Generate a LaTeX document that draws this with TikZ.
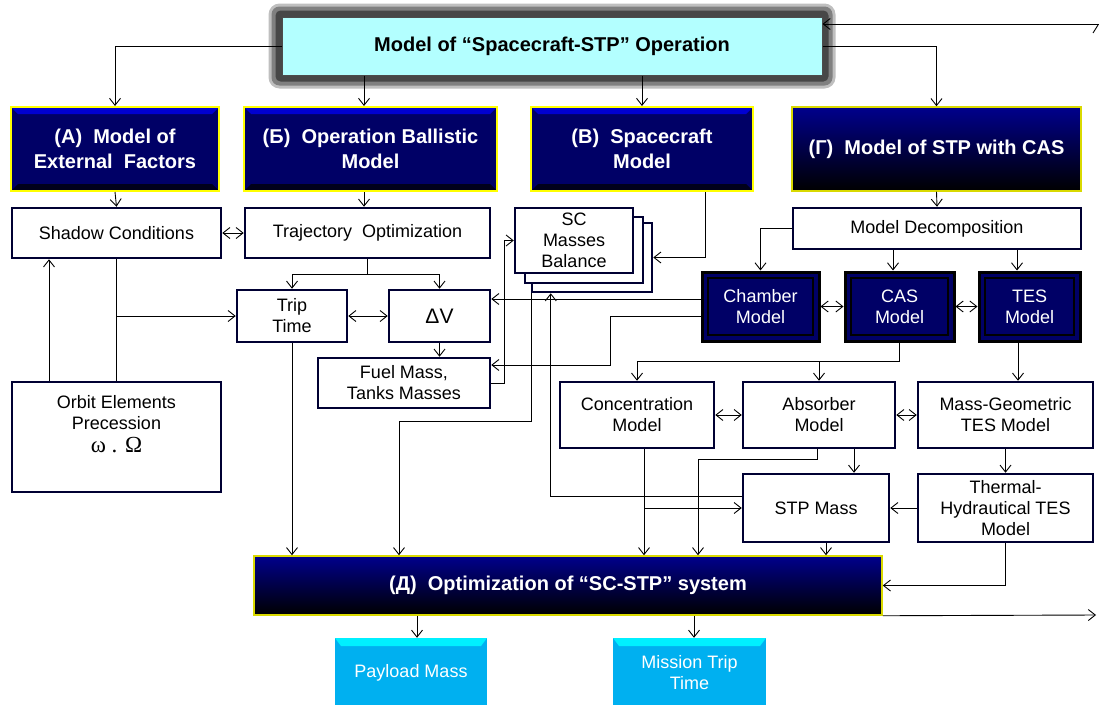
\documentclass[tikz,border=0pt]{standalone}
\usepackage[no-math]{fontspec}
\setmainfont{Liberation Sans}
\newfontfamily\greekserif{Liberation Serif}
\usetikzlibrary{arrows.meta, positioning, calc, backgrounds}
\definecolor{Navy}{HTML}{000066}
\definecolor{NavyTop}{HTML}{0000D0}
\definecolor{NavyEdge}{HTML}{00001A}
\definecolor{BoxLine}{HTML}{000033}
\definecolor{PaleCyan}{HTML}{B3FFFF}
\definecolor{Gold}{HTML}{FFFF00}
\definecolor{Sky}{HTML}{00B0F0}
\definecolor{SkyTop}{HTML}{00F0FF}
\newcommand{\boxfont}{\fontsize{18}{21}\selectfont}
\newcommand{\hdfont}{\fontsize{20}{25}\selectfont\bfseries}

\begin{document}
\begin{tikzpicture}[x=1pt, y=-1pt,
    wbox/.style={rectangle, draw=BoxLine, line width=2.5pt, fill=white, align=center, inner sep=0pt, font=\boxfont},
    hdbevel/.style={path picture={
      \fill[NavyTop] (path picture bounding box.north west) -- (path picture bounding box.north east)
        -- ([xshift=-7pt,yshift=-7pt]path picture bounding box.north east) -- ([xshift=7pt,yshift=-7pt]path picture bounding box.north west) -- cycle;
      \fill[NavyEdge] (path picture bounding box.south west) -- (path picture bounding box.south east)
        -- ([xshift=-7pt,yshift=7pt]path picture bounding box.south east) -- ([xshift=7pt,yshift=7pt]path picture bounding box.south west) -- cycle;}},
    dinner/.style={path picture={
      \draw[black, line width=1.5pt] ([xshift=6pt,yshift=-6pt]path picture bounding box.north west) rectangle ([xshift=-6pt,yshift=6pt]path picture bounding box.south east);}},
    skybevel/.style={path picture={
      \fill[SkyTop] (path picture bounding box.north west) -- (path picture bounding box.north east)
        -- ([xshift=-6pt,yshift=-8pt]path picture bounding box.north east) -- ([xshift=6pt,yshift=-8pt]path picture bounding box.north west) -- cycle;}},
    ttl/.style={rectangle, draw=black!70, line width=1pt, fill=PaleCyan, inner sep=0pt, font=\hdfont},
    hdbox/.style={rectangle, draw=Gold, line width=2pt, fill=Navy, text=white, align=center, inner sep=0pt, font=\hdfont, hdbevel},
    gbox/.style={rectangle, draw=Gold!85!black, line width=1.5pt, top color=Navy!75!blue, bottom color=black, text=white, align=center, inner sep=0pt, font=\hdfont},
    dbox/.style={rectangle, draw=black, line width=3pt, fill=Navy, text=white, align=center, inner sep=0pt, font=\boxfont, dinner},
    obox/.style={rectangle, fill=Sky, text=white, align=center, inner sep=0pt, font=\boxfont, skybevel},
    arr/.style={-{Straight Barb[length=7pt, width=11pt]}, line width=0.9pt},
    darr/.style={{Straight Barb[length=7pt, width=11pt]}-{Straight Barb[length=7pt, width=11pt]}, line width=0.9pt}
  ]
  \useasboundingbox (0,0) rectangle (1099,704);

  \node[ttl, minimum width=540pt, minimum height=58pt] (title) at (552,46) {Model of “Spacecraft-STP” Operation};
  \begin{scope}[on background layer]
    \fill[black!25, rounded corners=11pt] ([shift={(-13pt,13pt)}]title.north west) rectangle ([shift={(13pt,-13pt)}]title.south east);
    \fill[black!50, rounded corners=8pt] ([shift={(-10pt,10pt)}]title.north west) rectangle ([shift={(10pt,-10pt)}]title.south east);
    \fill[black!72, rounded corners=5pt] ([shift={(-6pt,6pt)}]title.north west) rectangle ([shift={(6pt,-6pt)}]title.south east);
  \end{scope}

  \node[hdbox, minimum width=208pt, minimum height=84pt] (hdA) at (115,149) {(А)~ Model of\\External~ Factors};
  \node[hdbox, minimum width=253pt, minimum height=84pt] (hdB) at (370.5,149) {(Б)~ Operation Ballistic\\Model};
  \node[hdbox, minimum width=222pt, minimum height=84pt] (hdV) at (642,149) {(В)~ Spacecraft\\Model};
  \node[gbox, minimum width=289pt, minimum height=84pt] (hdG) at (936.5,149) {(Г)~ Model of STP with CAS};

  \node[wbox, minimum width=209pt, minimum height=50pt] (shadow) at (116.5,233) {Shadow Conditions};
  \node[wbox, minimum width=245pt, minimum height=50pt] (traj) at (367.5,233) {Trajectory~ Optimization};
  \node[wbox, minimum width=110pt, minimum height=52pt] (trip) at (292,316) {Trip\\Time};
  \node[wbox, minimum width=101pt, minimum height=52pt, font=\fontsize{21}{22}\selectfont] (dv) at (439.5,316) {ΔV};
  \node[wbox, minimum width=172pt, minimum height=50pt] (fuel) at (404,383) {Fuel Mass,\\Tanks Masses};
  \node[wbox, minimum width=209pt, minimum height=110pt] (orbit) at (116.5,437) {Orbit Elements\\Precession\\[2pt]{\greekserif\fontsize{23}{24}\selectfont ω . Ω}\\[6pt]};

  \node[wbox, minimum width=120pt, minimum height=69pt] (sc3) at (592,257.5) {};
  \node[wbox, minimum width=118pt, minimum height=66pt] (sc2) at (584,250) {};
  \node[wbox, minimum width=118pt, minimum height=65pt] (sc1) at (574,240.5) {SC\\Masses\\Balance};

  \node[wbox, minimum width=288pt, minimum height=41pt] (decomp) at (937,228.5) {Model Decomposition};
  \node[dbox, minimum width=117pt, minimum height=69pt] (chamber) at (760.5,306.5) {Chamber\\Model};
  \node[dbox, minimum width=109pt, minimum height=69pt] (cas) at (899.5,306.5) {CAS\\Model};
  \node[dbox, minimum width=101pt, minimum height=69pt] (tes) at (1029.5,306.5) {TES\\Model};

  \node[wbox, minimum width=154pt, minimum height=66pt] (conc) at (637,415) {Concentration\\Model};
  \node[wbox, minimum width=152pt, minimum height=66pt] (abs) at (819,415) {Absorber\\Model};
  \node[wbox, minimum width=175pt, minimum height=66pt] (mg) at (1005.5,415) {Mass-Geometric\\TES Model};
  \node[wbox, minimum width=146pt, minimum height=68pt] (stp) at (816,508) {STP Mass};
  \node[wbox, minimum width=175pt, minimum height=68pt] (thermal) at (1005.5,508) {Thermal-\\Hydrautical TES\\Model};

  \node[gbox, minimum width=628pt, minimum height=59pt] (opt) at (568,585.5) {(Д)~ Optimization of “SC-STP” system};
  \node[obox, minimum width=152pt, minimum height=70pt] (pay) at (411,673) {Payload Mass};
  \node[obox, minimum width=153pt, minimum height=70pt] (mis) at (689.5,673) {Mission Trip\\Time};

  \draw[arr] (title.west) -| (hdA.north);
  \draw[arr] (title.south -| 364,0) -- (hdB.north -| 364,0);
  \draw[arr] (hdV.north |- title.south) -- (hdV.north);
  \draw[arr] (title.east) -| (hdG.north);

  \draw[arr] (hdA.south) -- (shadow.north);
  \draw[arr] (hdB.south -| 364,0) -- (traj.north -| 364,0);
  \draw[darr] (shadow.east) -- (traj.west);
  \coordinate (tj) at (traj.south |- 0,274);
  \draw (traj.south) -- (tj);
  \draw[arr] (tj) -| (trip.north);
  \draw[arr] (tj) -| (dv.north);
  \draw[darr] (trip.east) -- (dv.west);
  \draw[arr] (dv.south) -- (dv.south |- fuel.north);
  \draw[arr] (orbit.north -| 49,0) -- (shadow.south -| 49,0);
  \draw (shadow.south) -- (orbit.north);
  \draw[arr] (shadow.south |- trip.west) -- (trip.west);
  \draw[arr] (trip.south) -- (trip.south |- opt.north);

  \draw[arr] (hdV.south -| 705,0) |- (sc3.east);
  \draw[arr] (fuel.east) -- ++(13,0) |- (sc1.west);
  \draw[arr] (chamber.west |- 0,299) -- (dv.east |- 0,299);
  \draw[arr] (chamber.west |- 0,316) -- (610,316) |- (fuel.east |- 0,365);
  \draw[arr] ([xshift=1pt]sc3.south west) |- (399,421) -- (opt.north -| 399,0);
  \draw[arr] (stp.west |- 0,496) -| ([xshift=20pt]sc3.south west);

  \draw[arr] (hdG.south) -- (decomp.north);
  \draw[arr] (decomp.west) -| (chamber.north);
  \draw[arr] (decomp.south -| 893,0) -- (cas.north -| 893,0);
  \draw[arr] (decomp.south -| 1017,0) -- (tes.north -| 1017,0);
  \draw[darr] (chamber.east) -- (cas.west);
  \draw[darr] (cas.east) -- (tes.west);
  \draw[arr] (cas.south) |- (conc.north |- 0,361) -- (conc.north);
  \draw[arr] (abs.north |- 0,361) -- (abs.north);
  \draw[arr] (tes.south -| 1018,0) -- (mg.north -| 1018,0);
  \draw[darr] (conc.east) -- (abs.west);
  \draw[darr] (abs.east) -- (mg.west);

  \draw[arr] (conc.south -| 644,0) -- (opt.north -| 644,0);
  \draw[arr] (stp.west -| 644,0) -- (stp.west);
  \draw[arr] (abs.south -| 817,0) |- (698,459) -- (opt.north -| 698,0);
  \draw[arr] (abs.south -| 854,0) -- (stp.north -| 854,0);
  \draw[arr] (mg.south) -- (thermal.north);
  \draw[arr] (thermal.west) -- (stp.east);
  \draw[arr] (stp.south -| 826,0) -- (opt.north -| 826,0);
  \draw[arr] (thermal.south) |- (opt.east);

  \draw[arr] (opt.south -| 417,0) -- (pay.north -| 417,0);
  \draw[arr] (opt.south -| 694,0) -- (mis.north -| 694,0);
  \coordinate (outR) at (1096,615);
  \coordinate (inR) at (1099,24);
  \draw[arr] (opt.south east) -- (outR);
  \draw[arr] (inR) -- (title.east |- inR);
  \draw[line width=0.9pt] (1093,33) -- (1098,25);
\end{tikzpicture}
\end{document}
